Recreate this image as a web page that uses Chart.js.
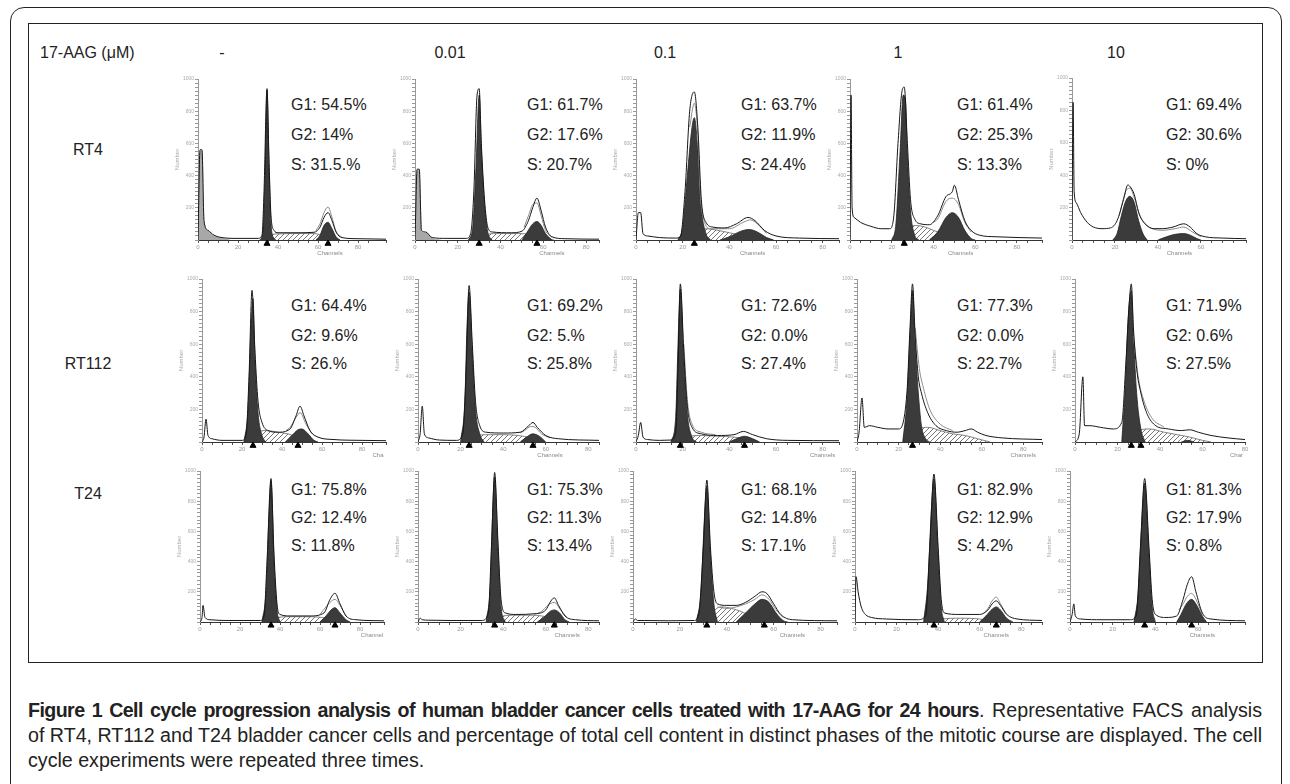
<!DOCTYPE html>
<html>
<head>
<meta charset="utf-8">
<script src="https://cdn.jsdelivr.net/npm/chart.js@4.4.1/dist/chart.umd.min.js"></script>
<style>
  body { margin:0; background:#fff; width:1290px; height:784px; overflow:hidden; position:relative;
         font-family:"Liberation Sans", Arial, sans-serif; }
  .frame { position:absolute; left:10px; top:7px; width:1270px; height:830px; border:1.5px solid #222; border-radius:14px; }
  .box { position:absolute; left:28px; top:23px; width:1233px; height:638px; border:1px solid #222; }
  .t { position:absolute; font-size:16px; color:#222; white-space:nowrap; line-height:18px; transform:translateY(-50%); }
  .c { transform:translate(-50%,-50%); }
  canvas { position:absolute; }
  .cap { position:absolute; left:28px; font-size:20px; color:#222; line-height:25px; white-space:nowrap; transform-origin:0 0; }
  .cap b { letter-spacing:-0.6px; }
</style>
</head>
<body>
<div class="frame"></div>
<div class="box"></div>
<div id="root"></div>
<div class="cap" id="cap1" style="top:698px"><b>Figure 1 Cell cycle progression analysis of human bladder cancer cells treated with 17-AAG for 24 hours</b>. Representative FACS analysis</div>
<div class="cap" id="cap2" style="top:723px">of RT4, RT112 and T24 bladder cancer cells and percentage of total cell content in distinct phases of the mitotic course are displayed. The cell</div>
<div class="cap" id="cap3" style="top:748px">cycle experiments were repeated three times.</div>

<script>
// labels
var cellLines = ['RT4', 'RT112', 'T24'];
var doses = ['-', '0.01', '0.1', '1', '10'];
var g1Text = [['54.5%', '61.7%', '63.7%', '61.4%', '69.4%'],
              ['64.4%', '69.2%', '72.6%', '77.3%', '71.9%'],
              ['75.8%', '75.3%', '68.1%', '82.9%', '81.3%']];
var g2Text = [['14%', '17.6%', '11.9%', '25.3%', '30.6%'],
              ['9.6%', '5.%', '0.0%', '0.0%', '0.6%'],
              ['12.4%', '11.3%', '14.8%', '12.9%', '17.9%']];
var sText  = [['31.5.%', '20.7%', '24.4%', '13.3%', '0%'],
              ['26.%', '25.8%', '27.4%', '22.7%', '27.5%'],
              ['11.8%', '13.4%', '17.1%', '4.2%', '0.8%']];

// channel range of each histogram
var xMax = [[94, 86, 87, 92, 81], [92, 85, 87, 89, 80], [92, 85, 87, 90, 82]];

// ---- RT4 ----
var rt4_d0_total = [[0,0],[1,560],[2,560],[3,120],[5,60],[8,30],[12,15],[20,10],[30,10],[32,30],[33,300],[34.5,940],[35.5,500],[36.5,150],[38,60],[40,45],[50,45],[58,48],[61,80],[63,140],[65,170],[67,120],[69,50],[72,15],[80,8],[94,5]];
var rt4_d0_rep = [[59,60],[61,100],[63,170],[65,205],[67,140],[69,55],[72,15]];
var rt4_d0_g1 = [[31,0],[32.5,60],[33.5,400],[34.5,930],[35.5,450],[36.5,100],[38,10],[39,0]];
var rt4_d0_g2 = [[59,0],[61,30],[63,90],[65,110],[67,70],[69,20],[71,0]];
var rt4_d0_s = [[34,0],[36,30],[40,38],[50,40],[58,40],[62,28],[66,10],[68,0]];
var rt4_d0_debris = [[0,0],[1,550],[2,550],[3,110],[5,55],[8,25],[12,10],[16,0]];
var rt4_d0_tri = [34.5, 65];

var rt4_d001_total = [[0,0],[1,440],[2,440],[3,60],[5,50],[8,15],[15,10],[24,10],[26,40],[27.5,300],[29,900],[30,940],[31,600],[32.5,250],[34,80],[36,50],[45,45],[50,55],[53,120],[55,200],[57,260],[59,180],[61,80],[64,20],[70,8],[86,5]];
var rt4_d001_rep = [[51,80],[53,150],[55,220],[57,230],[59,150],[61,60],[64,15]];
var rt4_d001_g1 = [[25,0],[27,80],[28.5,450],[30,900],[31,560],[32.5,220],[34,50],[36,0]];
var rt4_d001_g2 = [[50,0],[52,40],[55,100],[57,115],[59,90],[61,40],[64,0]];
var rt4_d001_s = [[30,0],[33,30],[38,40],[45,40],[52,38],[57,30],[62,10],[65,0]];
var rt4_d001_debris = [[0,0],[1,430],[2,430],[3,55],[5,45],[8,10],[12,0]];
var rt4_d001_tri = [30, 57];

var rt4_d01_total = [[0,0],[1,170],[2,170],[3,40],[5,25],[10,15],[17,12],[19,20],[21,300],[23,800],[25,920],[26.5,700],[28,250],[30,110],[33,80],[38,75],[43,100],[48,140],[51,120],[55,60],[60,25],[70,12],[87,8]];
var rt4_d01_rep = [[23,700],[25,850],[26.5,650],[27.5,300],[29,130],[32,70],[40,70],[46,110],[49,125],[52,100],[56,40]];
var rt4_d01_g1 = [[18,0],[20,80],[22,400],[24,700],[25,760],[26.5,560],[28,200],[30,40],[32,0]];
var rt4_d01_g2 = [[36,0],[40,20],[45,55],[48.5,65],[52,50],[56,15],[59,0]];
var rt4_d01_s = [[24,0],[27,50],[30,70],[35,60],[40,45],[45,30],[50,15],[55,0]];
var rt4_d01_debris = [];
var rt4_d01_tri = [25];

var rt4_d1_total = [[0,0],[0.5,900],[1,200],[2,140],[5,110],[10,85],[15,70],[19,70],[21,150],[23,600],[25,930],[26,950],[27.5,600],[29,250],[31,130],[34,100],[38,95],[42,150],[46,270],[49,300],[50,340],[52,250],[55,120],[58,60],[62,30],[70,20],[92,12]];
var rt4_d1_rep = [[40,110],[42,130],[46,240],[49,260],[52,220],[55,110],[58,50]];
var rt4_d1_g1 = [[20,0],[22,100],[24,550],[25.5,900],[26.5,880],[27.5,520],[29,180],[31,30],[33,0]];
var rt4_d1_g2 = [[38,0],[42,50],[46,140],[49,170],[52,140],[55,60],[58,10],[60,0]];
var rt4_d1_s = [[26,0],[29,80],[32,90],[36,80],[40,60],[44,40],[48,20],[52,0]];
var rt4_d1_debris = [];
var rt4_d1_tri = [26];

var rt4_d10_total = [[0,0],[0.5,850],[1,300],[2,230],[4,170],[7,110],[10,80],[14,70],[18,75],[21,120],[24,250],[26,340],[27,330],[29,280],[31,170],[34,100],[38,70],[42,70],[47,80],[52,100],[55,80],[58,40],[62,20],[70,12],[81,8]];
var rt4_d10_rep = [[22,150],[25,300],[27,320],[29,260],[32,140],[36,80],[42,60],[48,70],[52,80],[56,50],[60,20]];
var rt4_d10_g1 = [[19,0],[21,40],[23,150],[25,240],[27,270],[29,230],[31,120],[33,40],[35,0]];
var rt4_d10_g2 = [[40,0],[44,20],[48,35],[52,40],[55,30],[58,10],[60,0]];
var rt4_d10_s = [];
var rt4_d10_debris = [];
var rt4_d10_tri = [];

// ---- RT112 ----
var rt112_d0_total = [[0,0],[1,30],[2,140],[3,40],[5,20],[10,10],[20,10],[22,40],[23.5,400],[25,930],[26.5,550],[28,250],[30,120],[33,70],[38,60],[44,80],[47,160],[49,220],[51,160],[54,70],[58,30],[66,15],[80,10],[92,8]];
var rt112_d0_rep = [[42,70],[44,90],[47,150],[49,180],[52,110],[55,50]];
var rt112_d0_g1 = [[21,0],[23,200],[24.5,700],[25.5,880],[26.5,500],[28,180],[30,40],[32,0]];
var rt112_d0_g2 = [[42,0],[45,40],[48,75],[50,80],[53,50],[56,10],[58,0]];
var rt112_d0_s = [[25,0],[28,60],[32,70],[38,60],[43,50],[48,30],[53,10],[56,0]];
var rt112_d0_tri = [25.5, 48];

var rt112_d001_total = [[0,0],[1,50],[2,220],[3,50],[5,25],[10,12],[18,10],[21,50],[22.5,400],[24,960],[25.5,600],[27,250],[29,100],[32,60],[40,55],[48,60],[52,100],[54,120],[56,90],[60,40],[66,20],[85,10]];
var rt112_d001_rep = [[48,55],[50,70],[53,95],[55,90],[58,50],[62,25]];
var rt112_d001_g1 = [[20,0],[22,250],[23,700],[24,920],[25.5,550],[27,200],[29,50],[31,0]];
var rt112_d001_g2 = [[48,0],[51,30],[54,50],[57,35],[60,0]];
var rt112_d001_s = [[25,0],[28,40],[33,45],[40,45],[47,40],[53,25],[58,0]];
var rt112_d001_tri = [24, 54];

var rt112_d01_total = [[0,0],[1,40],[2,120],[3,30],[5,15],[10,10],[15,12],[17,60],[18,450],[19,970],[20.5,550],[22,220],[24,90],[28,50],[35,40],[42,45],[46,65],[50,45],[56,20],[65,10],[87,8]];
var rt112_d01_rep = [[20.5,600],[22,260],[24,110],[28,60],[34,45]];
var rt112_d01_g1 = [[15,0],[17,150],[18,600],[19,940],[20.5,500],[22,170],[24,30],[26,0]];
var rt112_d01_g2 = [[40,0],[43,20],[46.5,35],[50,20],[53,0]];
var rt112_d01_s = [[20,0],[23,35],[28,40],[35,35],[42,30],[48,15],[52,0]];
var rt112_d01_tri = [19, 46.5];

var rt112_d1_total = [[0,0],[1,60],[2.4,270],[3.5,90],[6,100],[10,90],[15,80],[20,80],[24,300],[25.5,700],[26.7,970],[28,650],[29.5,400],[31,300],[34,180],[38,100],[43,70],[48,60],[52,70],[55,80],[58,60],[62,40],[70,25],[89,15]];
var rt112_d1_rep = [[28,700],[30,450],[32,330],[35,200],[40,110],[46,70]];
var rt112_d1_g1 = [[22,0],[24,250],[25.5,650],[26.7,930],[28,600],[29.5,300],[31,100],[33,20],[35,0]];
var rt112_d1_g2 = [];
var rt112_d1_s = [[27,0],[30,80],[34,90],[40,70],[46,50],[52,40],[58,20],[64,0]];
var rt112_d1_tri = [26.7];

var rt112_d10_total = [[0,0],[2,50],[3.7,400],[4.5,100],[7,100],[12,90],[18,80],[22,120],[24,500],[25.5,850],[26.5,970],[27.5,700],[29,450],[31,300],[34,170],[38,100],[44,80],[50,70],[54,75],[58,60],[64,40],[72,25],[80,15]];
var rt112_d10_rep = [[27.5,650],[30,380],[32,270],[36,150],[42,90]];
var rt112_d10_g1 = [[22,0],[23.5,300],[25,750],[26.5,930],[27.5,650],[29,300],[31,80],[33,0]];
var rt112_d10_g2 = [[50,0],[53,10],[56,0]];
var rt112_d10_s = [[27,0],[30,70],[35,80],[42,60],[48,45],[54,30],[60,10],[64,0]];
var rt112_d10_tri = [26.5, 31];

// ---- T24 ----
var t24_d0_total = [[0,0],[1,30],[1.5,110],[2.5,30],[5,15],[15,10],[30,10],[32,40],[33.5,400],[35.5,950],[37,450],[38.5,120],[40,50],[45,40],[55,40],[62,60],[65,150],[67.5,190],[70,120],[73,40],[78,15],[92,8]];
var t24_d0_rep = [[60,50],[63,100],[65,130],[67.5,150],[70,110],[73,40]];
var t24_d0_g1 = [[31,0],[33,200],[34.5,700],[35.5,930],[37,400],[38.5,80],[40,0]];
var t24_d0_g2 = [[60,0],[63,40],[65.5,80],[67.5,95],[70,60],[73,15],[75,0]];
var t24_d0_s = [[36,0],[39,30],[45,35],[55,35],[61,30],[66,15],[70,0]];
var t24_d0_tri = [35.5, 67.5];

var t24_d001_total = [[0,0],[1,25],[2,15],[5,12],[15,10],[30,10],[33,60],[34.5,500],[36,990],[37.5,550],[39,150],[41,60],[46,50],[55,55],[60,80],[62,130],[64,160],[66,110],[69,40],[74,15],[85,8]];
var t24_d001_rep = [[55,50],[58,70],[61,110],[64,130],[67,80],[70,30]];
var t24_d001_g1 = [[32,0],[34,250],[35,700],[36,960],[37.5,500],[39,100],[41,0]];
var t24_d001_g2 = [[56,0],[59,30],[62,70],[64,80],[66.5,60],[69,15],[71,0]];
var t24_d001_s = [[37,0],[40,40],[46,45],[54,45],[60,35],[65,15],[68,0]];
var t24_d001_tri = [36, 64];

var t24_d01_total = [[0,0],[1,20],[2,10],[5,10],[15,8],[26,10],[28,50],[30,500],[31.5,940],[33,500],[34.5,200],[36,120],[40,110],[44,110],[48,130],[52,170],[55,200],[57,190],[60,120],[63,50],[68,15],[87,8]];
var t24_d01_rep = [[36,100],[40,90],[44,100],[48,120],[52,150],[55,180],[58,150],[61,80],[64,30]];
var t24_d01_g1 = [[27,0],[29,200],[30.5,700],[31.5,900],[33,450],[34.5,120],[36,0]];
var t24_d01_g2 = [[44,0],[48,60],[52,120],[55,150],[58,130],[61,60],[64,10],[66,0]];
var t24_d01_s = [[32,0],[35,80],[38,100],[42,90],[46,70],[50,40],[54,20],[58,0]];
var t24_d01_tri = [31.5, 56];

var t24_d1_total = [[0,0],[0.5,300],[1.5,200],[3,100],[5,50],[8,30],[15,20],[30,15],[34,40],[36,500],[38,980],[40,500],[41.5,150],[43,60],[50,50],[60,50],[64,80],[66,120],[68,140],[70,110],[73,50],[78,20],[90,10]];
var t24_d1_rep = [[62,60],[64,90],[66,140],[68,165],[70,120],[73,50]];
var t24_d1_g1 = [[33,0],[35,250],[37,800],[38,950],[40,450],[41.5,100],[43,0]];
var t24_d1_g2 = [[60,0],[63,40],[66,85],[68,100],[70,80],[73,25],[76,0]];
var t24_d1_s = [[38,0],[42,20],[50,25],[60,20],[66,0]];
var t24_d1_tri = [38, 68];

var t24_d10_total = [[0,0],[1,50],[1.8,120],[2.5,40],[5,20],[15,15],[28,15],[31,40],[33,500],[35,950],[37,500],[38.5,150],[40,50],[45,30],[50,40],[53,150],[55,250],[57,300],[59,200],[62,60],[66,20],[82,8]];
var t24_d10_rep = [[51,80],[53,120],[55,170],[57,190],[59,150],[62,50]];
var t24_d10_g1 = [[30,0],[32,200],[34,750],[35,920],[37,450],[38.5,100],[40,0]];
var t24_d10_g2 = [[50,0],[52,50],[54.5,120],[57,150],[59,120],[62,40],[64,0]];
var t24_d10_s = [];
var t24_d10_tri = [35, 57];

var none = [];
var histos = [
  [[rt4_d0_total, rt4_d0_rep, rt4_d0_g1, rt4_d0_g2, rt4_d0_s, rt4_d0_tri, rt4_d0_debris],
   [rt4_d001_total, rt4_d001_rep, rt4_d001_g1, rt4_d001_g2, rt4_d001_s, rt4_d001_tri, rt4_d001_debris],
   [rt4_d01_total, rt4_d01_rep, rt4_d01_g1, rt4_d01_g2, rt4_d01_s, rt4_d01_tri, rt4_d01_debris],
   [rt4_d1_total, rt4_d1_rep, rt4_d1_g1, rt4_d1_g2, rt4_d1_s, rt4_d1_tri, rt4_d1_debris],
   [rt4_d10_total, rt4_d10_rep, rt4_d10_g1, rt4_d10_g2, rt4_d10_s, rt4_d10_tri, rt4_d10_debris]],
  [[rt112_d0_total, rt112_d0_rep, rt112_d0_g1, rt112_d0_g2, rt112_d0_s, rt112_d0_tri, none],
   [rt112_d001_total, rt112_d001_rep, rt112_d001_g1, rt112_d001_g2, rt112_d001_s, rt112_d001_tri, none],
   [rt112_d01_total, rt112_d01_rep, rt112_d01_g1, rt112_d01_g2, rt112_d01_s, rt112_d01_tri, none],
   [rt112_d1_total, rt112_d1_rep, rt112_d1_g1, rt112_d1_g2, rt112_d1_s, rt112_d1_tri, none],
   [rt112_d10_total, rt112_d10_rep, rt112_d10_g1, rt112_d10_g2, rt112_d10_s, rt112_d10_tri, none]],
  [[t24_d0_total, t24_d0_rep, t24_d0_g1, t24_d0_g2, t24_d0_s, t24_d0_tri, none],
   [t24_d001_total, t24_d001_rep, t24_d001_g1, t24_d001_g2, t24_d001_s, t24_d001_tri, none],
   [t24_d01_total, t24_d01_rep, t24_d01_g1, t24_d01_g2, t24_d01_s, t24_d01_tri, none],
   [t24_d1_total, t24_d1_rep, t24_d1_g1, t24_d1_g2, t24_d1_s, t24_d1_tri, none],
   [t24_d10_total, t24_d10_rep, t24_d10_g1, t24_d10_g2, t24_d10_s, t24_d10_tri, none]]
];

// x axis label text as it shows in each panel
var chanText = [['Channels', 'Channels', 'Channels', 'Channels', 'Channels'],
                ['Cha', 'Channels', 'Channels', 'Channels', 'Char'],
                ['Channel', 'Channels', 'Channels', 'Channels', 'Channels']];
var chanAt = [[66, 64, 50, 53, 50], [88, 62, 80, 80, 76], [86, 70, 68, 68, 62]];

// layout (pixels)
var rowTop = [78, 278, 470];
var rowBase = [240, 442, 622];
var axisX = [[198, 415, 636, 850, 1072], [202, 418, 636, 857, 1075], [200, 418, 633, 855, 1070]];
var axisEnd = [[387, 600, 840, 1043, 1246], [387, 600, 840, 1043, 1246], [385, 600, 838, 1043, 1246]];
var statX = [291, 527, 741, 957, 1166];
var statY = [[105, 135, 165], [306, 336, 364], [490, 518, 546]];
var labelY = [150, 364, 494];
var doseX = [222, 450, 665, 898, 1116];

var root = document.getElementById('root');
function text(str, x, y, center) {
  var d = document.createElement('div');
  d.className = center ? 't c' : 't';
  d.style.left = x + 'px';
  d.style.top = y + 'px';
  d.textContent = str;
  root.appendChild(d);
}

// caption: narrow the type so lines 1 and 2 run the full width
var capW = 1234;
var cap1 = document.getElementById('cap1'), cap2 = document.getElementById('cap2'), cap3 = document.getElementById('cap3');
var k = Math.min(1, capW / cap2.getBoundingClientRect().width);
[cap1, cap2, cap3].forEach(function (el, i) {
  el.style.transform = 'scaleX(' + k + ')';
  if (i < 2) {
    var w = el.getBoundingClientRect().width;           // already scaled
    var gaps = el.textContent.split(' ').length - 1;
    if (w > capW) {
      el.style.transform = 'scaleX(' + (k * capW / w) + ')';
    } else {
      el.style.wordSpacing = ((capW - w) / k / gaps) + 'px';
    }
  }
});

text('17-AAG (\u03bcM)', 40, 53);
for (var i = 0; i < doses.length; i++) text(doses[i], doseX[i], 53, true);

// hatch for S phase
var pc = document.createElement('canvas');
pc.width = 5; pc.height = 5;
var px = pc.getContext('2d');
px.strokeStyle = '#555'; px.lineWidth = 0.8;
px.beginPath();
px.moveTo(0, 5); px.lineTo(5, 0);
px.moveTo(-1, 1); px.lineTo(1, -1);
px.moveTo(4, 6); px.lineTo(6, 4);
px.stroke();
var hatch = px.createPattern(pc, 'repeat');

function xy(a) { return a.map(function (p) { return { x: p[0], y: p[1] }; }); }

var padT = 4, padR = 4, yW = 24, xH = 18;

for (var r = 0; r < 3; r++) {
  text(cellLines[r], 88, labelY[r], true);
  for (var c = 0; c < 5; c++) {
    text('G1: ' + g1Text[r][c], statX[c], statY[r][0]);
    text('G2: ' + g2Text[r][c], statX[c], statY[r][1]);
    text('S: ' + sText[r][c], statX[c], statY[r][2]);

    var h = histos[r][c];
    var cv = document.createElement('canvas');
    var w = axisEnd[r][c] - axisX[r][c] + yW + padR;
    var hh = rowBase[r] - rowTop[r] + padT + xH;
    cv.width = w; cv.height = hh;
    cv.style.left = (axisX[r][c] - yW) + 'px';
    cv.style.top = (rowTop[r] - padT) + 'px';
    root.appendChild(cv);

    (function (r, c, h) {
      new Chart(cv.getContext('2d'), {
        type: 'line',
        data: {
          datasets: [
            { data: xy(h[5].map(function (v) { return [v, -22]; })), showLine: false, pointStyle: 'triangle',
              pointRadius: 3.5, pointBackgroundColor: '#000', pointBorderColor: '#000', clip: false, order: 0 },
            { data: xy(h[0]), borderColor: '#161616', borderWidth: 1, fill: false, order: 1 },
            { data: xy(h[1]), borderColor: '#8a8a8a', borderWidth: 1, fill: false, order: 2 },
            { data: xy(h[2]), borderColor: '#222', borderWidth: 0.8, backgroundColor: '#3b3b3b', fill: 'origin', order: 3 },
            { data: xy(h[3]), borderColor: '#222', borderWidth: 0.8, backgroundColor: '#3b3b3b', fill: 'origin', order: 4 },
            { data: xy(h[4]), borderColor: '#666', borderWidth: 0.8, backgroundColor: hatch, fill: 'origin', order: 5 },
            { data: xy(h[6]), borderColor: '#999', borderWidth: 0.6, backgroundColor: '#a8a8a8', fill: 'origin', order: 6 }
          ]
        },
        options: {
          responsive: false,
          animation: false,
          events: [],
          devicePixelRatio: 1,
          layout: { padding: { top: padT, right: padR, left: 0, bottom: 0 } },
          elements: { point: { radius: 0 }, line: { cubicInterpolationMode: 'monotone' } },
          plugins: { legend: { display: false }, tooltip: { enabled: false } },
          scales: {
            x: {
              type: 'linear', min: 0, max: xMax[r][c],
              afterFit: function (s) { s.height = xH; },
              border: { color: '#333', width: 1 },
              grid: { drawOnChartArea: false, tickLength: 3, color: '#555' },
              ticks: { stepSize: 5, autoSkip: false, maxRotation: 0, padding: 1, color: '#999',
                       font: { size: 6 }, callback: function (v) { return v % 20 === 0 ? v : ''; } }
            },
            y: {
              min: 0, max: 1000,
              afterFit: function (s) { s.width = yW; },
              border: { color: '#999', width: 1 },
              grid: { drawOnChartArea: false, tickLength: 3, color: '#999' },
              ticks: { stepSize: 25, autoSkip: false, padding: 1, color: '#aaa', font: { size: 5 },
                       callback: function (v) { return (v % 200 === 0 && v > 0) ? v : ''; } },
              title: { display: true, text: 'Number', color: '#aaa', font: { size: 6 }, padding: 0 }
            }
          }
        },
        plugins: [{
          id: 'chan',
          afterDraw: function (ch) {
            var ctx = ch.ctx;
            ctx.save();
            ctx.font = '6px "Liberation Sans", Arial';
            ctx.fillStyle = '#888';
            ctx.textAlign = 'center';
            ctx.fillText(chanText[r][c], ch.scales.x.getPixelForValue(chanAt[r][c]), ch.chartArea.bottom + 15);
            ctx.restore();
          }
        }]
      });
    })(r, c, h);
  }
}
</script>
</body>
</html>
